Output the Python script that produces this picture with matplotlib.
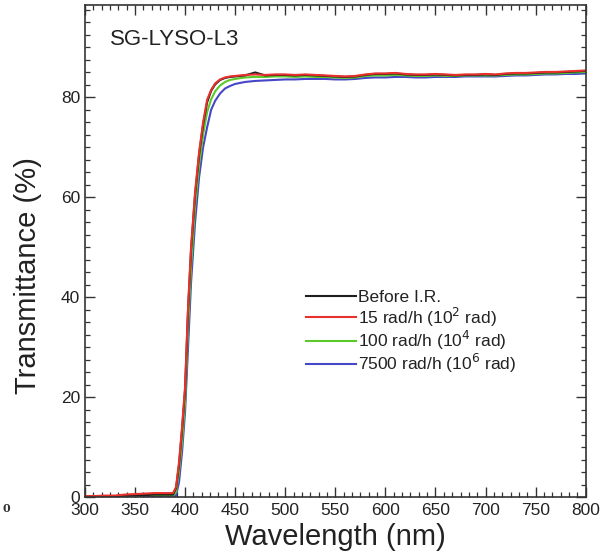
import matplotlib
matplotlib.use("Agg")
import matplotlib.pyplot as plt
from matplotlib.ticker import MultipleLocator, AutoMinorLocator

plt.rcParams["font.family"] = ["Liberation Sans", "DejaVu Sans"]

# ---- Data ----
wavelength = [300, 310, 320, 330, 340, 350, 360, 370, 380, 388,
              391, 394, 397, 400, 403, 406, 410, 414, 418, 422,
              426, 430, 435, 440, 445, 450, 460, 470, 480, 490,
              500, 510, 520, 530, 540, 550, 560, 570, 580, 590,
              600, 610, 620, 630, 640, 650, 660, 670, 680, 690,
              700, 710, 720, 730, 740, 750, 760, 770, 780, 790, 800]

t_before = [0.2, 0.2, 0.2, 0.2, 0.3, 0.4, 0.4, 0.5, 0.5, 0.5,
            1.8, 6.5, 13.5, 21.5, 37.5, 49.5, 60.5, 68.5, 74.5, 79.0,
            81.3, 82.6, 83.5, 83.9, 84.1, 84.2, 84.4, 85.0, 84.4, 84.5,
            84.5, 84.4, 84.5, 84.4, 84.3, 84.2, 84.1, 84.2, 84.5, 84.7,
            84.7, 84.8, 84.6, 84.5, 84.5, 84.6, 84.5, 84.4, 84.5, 84.5,
            84.6, 84.5, 84.7, 84.8, 84.8, 84.9, 85.0, 85.0, 85.1, 85.2, 85.3]

t_15 = [0.2, 0.2, 0.3, 0.3, 0.5, 0.6, 0.7, 0.8, 0.8, 0.8,
        2.0, 7.0, 14.0, 22.0, 38.0, 50.0, 61.0, 69.0, 75.0, 79.5,
        81.5, 82.8, 83.6, 84.0, 84.2, 84.3, 84.5, 84.6, 84.5, 84.6,
        84.6, 84.5, 84.6, 84.5, 84.4, 84.3, 84.2, 84.3, 84.6, 84.8,
        84.8, 84.9, 84.7, 84.6, 84.6, 84.7, 84.6, 84.5, 84.6, 84.6,
        84.7, 84.6, 84.8, 84.9, 84.9, 85.0, 85.1, 85.1, 85.2, 85.3, 85.4]

t_100 = [0.1, 0.1, 0.1, 0.2, 0.3, 0.3, 0.4, 0.4, 0.4, 0.3,
         1.0, 5.0, 11.0, 19.0, 34.0, 46.0, 58.0, 66.5, 72.5, 77.0,
         79.6, 81.2, 82.4, 83.1, 83.5, 83.7, 84.0, 84.1, 84.1, 84.2,
         84.2, 84.1, 84.2, 84.1, 84.1, 84.0, 83.9, 84.0, 84.3, 84.4,
         84.4, 84.5, 84.4, 84.3, 84.3, 84.4, 84.3, 84.3, 84.4, 84.4,
         84.4, 84.4, 84.5, 84.6, 84.6, 84.7, 84.8, 84.8, 84.9, 85.0, 85.1]

t_7500 = [0.0, 0.0, 0.1, 0.1, 0.1, 0.2, 0.2, 0.2, 0.2, 0.1,
          0.3, 3.0, 9.0, 17.0, 30.0, 43.0, 55.0, 64.0, 70.0, 74.0,
          77.5, 79.3, 80.8, 81.8, 82.3, 82.7, 83.1, 83.3, 83.4, 83.5,
          83.6, 83.6, 83.7, 83.7, 83.7, 83.6, 83.6, 83.7, 83.9, 84.0,
          84.0, 84.1, 84.1, 84.0, 84.0, 84.1, 84.1, 84.1, 84.2, 84.2,
          84.2, 84.2, 84.3, 84.4, 84.4, 84.5, 84.6, 84.6, 84.7, 84.7, 84.8]

labels = ["Before I.R.",
          "15 rad/h (10$^2$ rad)",
          "100 rad/h (10$^4$ rad)",
          "7500 rad/h (10$^6$ rad)"]
colors = ["#1e1e1e", "#e8312c", "#5cc92a", "#4646c8"]
series = [t_before, t_15, t_100, t_7500]


def main():
    fig = plt.figure(figsize=(6.02, 5.56), dpi=100)
    ax = fig.add_axes([0.141, 0.106, 0.832, 0.885])

    # draw blue first so red sits on top, like the reference
    handles = [None] * 4
    for i in [3, 2, 0, 1]:
        (h,) = ax.plot(wavelength, series[i], color=colors[i], lw=1.5,
                       label=labels[i])
        handles[i] = h

    ax.set_xlim(300, 800)
    ax.set_ylim(0, 98.5)
    ax.xaxis.set_major_locator(MultipleLocator(50))
    ax.xaxis.set_minor_locator(AutoMinorLocator(6))
    ax.yaxis.set_major_locator(MultipleLocator(20))
    ax.yaxis.set_minor_locator(AutoMinorLocator(8))
    ax.tick_params(which="both", direction="in", top=True, right=True,
                   colors="#333333", labelcolor="#222222", labelsize=12.5)
    ax.tick_params(which="major", length=7, width=1.0)
    ax.tick_params(which="minor", length=3.5, width=0.9)
    ax.tick_params(axis="x", pad=4)
    for sp in ax.spines.values():
        sp.set_color("#333333")
        sp.set_linewidth(1.2)

    ax.set_xlabel("Wavelength (nm)", fontsize=21, color="#222222", labelpad=4)
    ax.set_ylabel("Transmittance (%)", fontsize=21, color="#222222")
    ax.yaxis.set_label_coords(-0.085, 0.45)

    ax.text(0.05, 0.93, "SG-LYSO-L3", transform=ax.transAxes, fontsize=16,
            color="#222222", va="center")

    leg = ax.legend(handles=handles, loc="upper left",
                    bbox_to_anchor=(0.417, 0.445), frameon=False,
                    fontsize=12.5, handlelength=2.87, handletextpad=0.16,
                    labelspacing=0.0, borderpad=0.2)
    for t in leg.get_texts():
        t.set_color("#222222")

    # stray fragment from the neighbouring panel at the far left
    fig.text(0.004, 1 - 509 / 556, "0", fontsize=8, family="DejaVu Serif",
             weight="bold", va="center", color="#333333")

    fig.savefig("out.png", dpi=100)
    plt.close(fig)


if __name__ == "__main__":
    main()
